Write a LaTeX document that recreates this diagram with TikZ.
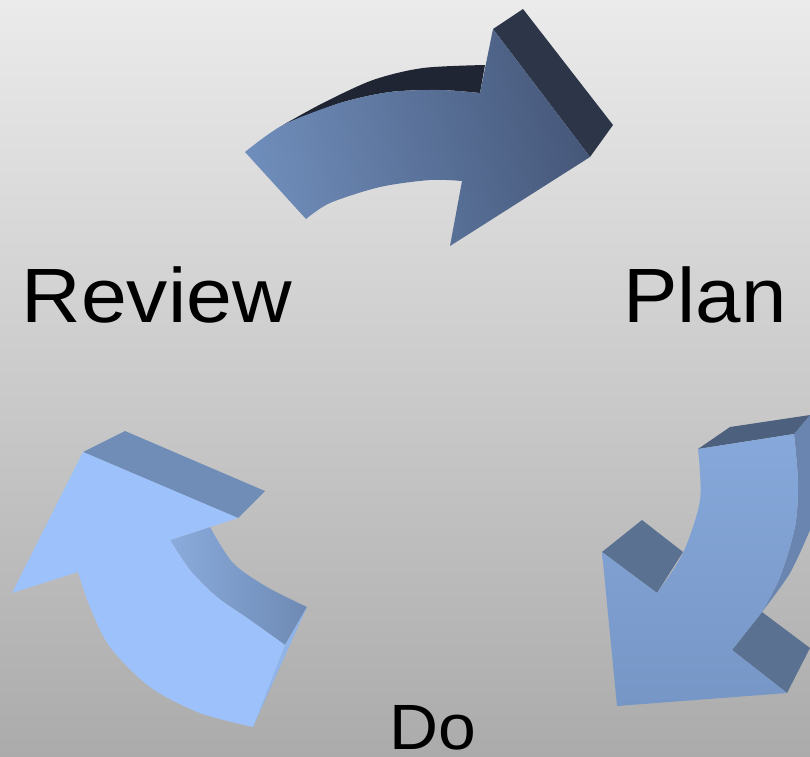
\documentclass[tikz,border=0pt]{standalone}
\usepackage{fontspec}
\setmainfont{Liberation Sans}
\definecolor{bgtop}{HTML}{EBEBEB}
\definecolor{bgbot}{HTML}{ABABAB}
\definecolor{topL}{HTML}{6F8DBA}
\definecolor{topR}{HTML}{46587A}
\definecolor{topdark}{HTML}{1F2533}
\definecolor{topside}{HTML}{2D3648}
\definecolor{rfT}{HTML}{86A8DA}
\definecolor{rfB}{HTML}{7696C6}
\definecolor{rtop}{HTML}{4D607E}
\definecolor{rside}{HTML}{6A85AF}
\definecolor{rbarb}{HTML}{5B7191}
\definecolor{lfront}{HTML}{9DC1FA}
\definecolor{lbarb}{HTML}{6F8DB7}
\definecolor{linL}{HTML}{8AABDC}
\definecolor{linR}{HTML}{6E8AB4}
\definecolor{ltail}{HTML}{90B3E8}
\tikzset{
  lbl/.style={inner sep=0pt, anchor=base west, text=black}
}
\begin{document}
\begin{tikzpicture}[x=1pt,y=-1pt]
\useasboundingbox (0,0) rectangle (810,756);
\shade[top color=bgtop, bottom color=bgbot] (0,0) rectangle (810,756);

% ---------- top arrow ----------
\fill[topdark] (283,125) -- plot[smooth] coordinates {(283,125) (323,103) (373,80) (423,68) (485,65)}
  -- (480,93) -- plot[smooth] coordinates {(480,93) (440,90) (390,92) (340,103) (283,125)} -- cycle;
\fill[topside] (493,29) -- (523,9) -- (613,125) -- (590,157) -- cycle;
\shade[left color=topL, right color=topR, shading angle=100]
  (245,152) -- (306,219)
  -- plot[smooth] coordinates {(306,219) (330,203) (380,187) (430,180) (462,181)}
  -- (450,246) -- (590,157) -- (493,29) -- (480,93)
  -- plot[smooth] coordinates {(480,93) (440,90) (390,92) (340,103) (283,125) (245,152)} -- cycle;

% ---------- right arrow ----------
\fill[rside] (794,434) -- (810,415) -- (810,530)
  -- plot[smooth] coordinates {(810,530) (790,573) (762,612)}
  -- plot[smooth] coordinates {(762,612) (780,577) (795,527) (798,483) (794,434)} -- cycle;
\fill[rtop] (698,449) -- (730,427) -- (810,415) -- (794,434) -- cycle;
\fill[rbarb] (602,552) -- (642,520) -- (683,552) -- (657,593) -- cycle;
\fill[rbarb] (762,612) -- (810,648) -- (787,693) -- (732,650) -- cycle;
\shade[top color=rfT, bottom color=rfB]
  (698,449)
  -- plot[smooth] coordinates {(698,449) (700,500) (683,553) (657,593)}
  -- (602,552) -- (617,706) -- (787,693) -- (732,650) -- (762,612)
  -- plot[smooth] coordinates {(762,612) (780,577) (795,527) (798,483) (794,434)} -- cycle;

% ---------- left arrow ----------
\fill[lbarb] (83,452) -- (125,431) -- (265,491) -- (238,518) -- cycle;
\shade[left color=linL, right color=linR]
  (170,540) -- (210,527)
  -- plot[smooth] coordinates {(210,527) (233,563) (267,587) (307,607)}
  -- (285,645)
  -- plot[smooth] coordinates {(285,645) (250,620) (217,597) (190,570) (170,540)} -- cycle;
\fill[ltail] (285,645) -- (307,607) -- (253,727) -- cycle;
\fill[lfront] (12,593) -- (83,452) -- (238,518) -- (170,540)
  -- plot[smooth] coordinates {(170,540) (190,570) (217,597) (250,620) (285,645)}
  -- (253,727)
  -- plot[smooth] coordinates {(253,727) (200,713) (150,687) (110,647) (90,607) (78,572)}
  -- cycle;

% ---------- labels ----------
\node[lbl, font=\fontsize{77}{77}\selectfont] (review) at (21.5,322) {\scalebox{1.07}[1]{Review}};
\node[lbl, font=\fontsize{77}{77}\selectfont] (plan) at (623,322) {\scalebox{1.06}[1]{Plan}};
\node[lbl, font=\fontsize{64}{64}\selectfont] (do) at (389,749) {\scalebox{1.06}[1]{Do}};
\end{tikzpicture}
\end{document}
